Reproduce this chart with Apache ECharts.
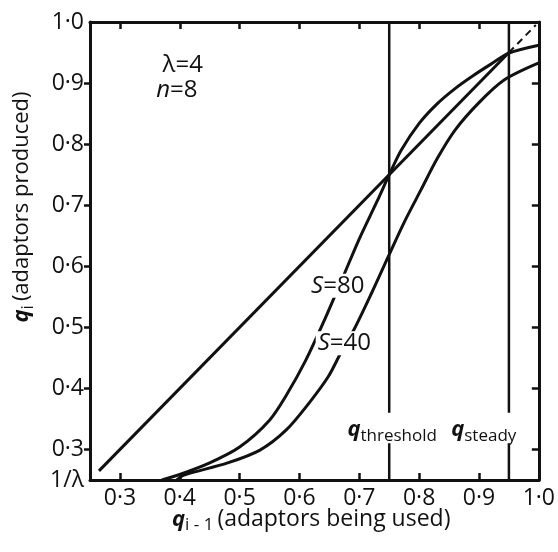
<!DOCTYPE html>
<html>
<head>
<meta charset="utf-8">
<script src="https://cdn.jsdelivr.net/npm/echarts@6/dist/echarts.min.js"></script>
<style>
    html, body { margin: 0; padding: 0; background: #fff; }
    #container { width: 558px; height: 552px; }
</style>
</head>
<body>
<div id="container"></div>
<script>
//刻度和标签
var xTicks = [0.3, 0.4, 0.5, 0.6, 0.7, 0.8, 0.9];
var xLabelValues = [0.3, 0.4, 0.5, 0.6, 0.7, 0.8, 0.9, 1.0];
var xLabelTexts = ['0·3', '0·4', '0·5', '0·6', '0·7', '0·8', '0·9', '1·0'];
var yTicks = [0.3, 0.4, 0.5, 0.6, 0.7, 0.8, 0.9];
var yLabelValues = [0.25, 0.3, 0.4, 0.5, 0.6, 0.7, 0.8, 0.9, 1.0];
var yLabelTexts = ['1/λ', '0·3', '0·4', '0·5', '0·6', '0·7', '0·8', '0·9', '1·0'];
//两条竖线
var qThreshold = 0.75;
var qSteady = 0.95;
//对角线 q_i = q_(i-1)
var diagSolid = [[0.265, 0.265], [0.95, 0.95]];
var diagDashed = [[0.95, 0.95], [0.995, 0.995]];
//S=80 曲线
var s80 = [[0.37, 0.25], [0.40, 0.259], [0.45, 0.278], [0.50, 0.304], [0.55, 0.348], [0.58, 0.392],
    [0.61, 0.445], [0.64, 0.508], [0.67, 0.576], [0.70, 0.645], [0.73, 0.707], [0.75, 0.75],
    [0.77, 0.79], [0.80, 0.834], [0.83, 0.866], [0.86, 0.891], [0.89, 0.912], [0.92, 0.931],
    [0.95, 0.949], [1.0, 0.962]];
//S=40 曲线
var s40 = [[0.395, 0.25], [0.407, 0.258], [0.48, 0.278], [0.534, 0.299], [0.578, 0.332], [0.616, 0.376],
    [0.648, 0.419], [0.669, 0.458], [0.691, 0.496], [0.72, 0.555], [0.748, 0.615], [0.775, 0.672],
    [0.803, 0.725], [0.83, 0.776], [0.86, 0.823], [0.90, 0.868], [0.942, 0.905], [1.0, 0.933]];
//竖线上留给文字的空隙
var gapLow = 0.31;
var gapHigh = 0.36;

var FONT = 'Open Sans';
var INK = '#111';

function vline(x) {
    return [[[x, 0.25], [x, gapLow]], [[x, gapHigh], [x, 1.0]]];
}
function fmt(values, texts) {
    return function (v) {
        for (var i = 0; i < values.length; i++) {
            if (Math.abs(values[i] - v) < 1e-6) return texts[i];
        }
        return '';
    };
}

var dom = document.getElementById('container');
var myChart = echarts.init(dom, null, { renderer: 'canvas' });

var lineStyle = { color: INK, width: 3 };
var series = [];
//对角线
series.push({ type: 'line', data: diagSolid, symbol: 'none', lineStyle: lineStyle, z: 3 });
series.push({ type: 'line', data: diagDashed, symbol: 'none', lineStyle: { color: INK, width: 2, type: [7, 5] }, z: 3 });
//两条 S 曲线
series.push({ type: 'line', data: s80, symbol: 'none', smooth: 0.3, lineStyle: lineStyle, z: 3 });
series.push({ type: 'line', data: s40, symbol: 'none', smooth: 0.3, lineStyle: lineStyle, z: 3 });
//竖线
[qThreshold, qSteady].forEach(function (x) {
    vline(x).forEach(function (seg) {
        series.push({ type: 'line', data: seg, symbol: 'none', lineStyle: { color: INK, width: 2.5 }, z: 3 });
    });
});
//文字标注
var subRich = {
    q: { fontFamily: FONT, fontSize: 22, fontStyle: 'italic', fontWeight: 'bold', color: INK },
    s: { fontFamily: FONT, fontSize: 17, color: INK, padding: [12, 0, 0, 0] },
    t: { fontFamily: FONT, fontSize: 24, color: INK },
    si: { fontFamily: FONT, fontSize: 24, fontStyle: 'italic', color: INK }
};
function textPoint(x, y, text, bg) {
    return {
        type: 'scatter', symbolSize: 0, z: 10, silent: true,
        itemStyle: { opacity: 1 },
        data: [[x, y]],
        label: {
            show: true, position: 'inside', formatter: text, rich: subRich,
            fontFamily: FONT, fontSize: 21, color: INK, textBorderWidth: 0,
            backgroundColor: bg || 'transparent', padding: bg ? [0, 2] : 0
        }
    };
}
series.push(textPoint(0.755, 0.332, '{q|q}{s|threshold}'));
series.push(textPoint(0.908, 0.332, '{q|q}{s|steady}'));
series.push(textPoint(0.664, 0.568, '{si|S}{t|=80}', '#fff'));
series.push(textPoint(0.675, 0.474, '{si|S}{t|=40}', '#fff'));
series.push(textPoint(0.405, 0.93, '{t|λ=4}'));
series.push(textPoint(0.395, 0.889, '{si|n}{t|=8}'));

var axisBase = {
    type: 'value', min: 0.25, max: 1.0,
    axisLine: { show: true, onZero: false, lineStyle: { color: INK, width: 3 } },
    splitLine: { show: false }
};

option = {
    backgroundColor: '#fff',
    animation: false,
    grid: { left: 90, right: 16, top: 22, bottom: 72 },
    xAxis: [
        Object.assign({}, axisBase, {
            position: 'bottom',
            axisTick: { show: true, inside: true, length: 7, lineStyle: { color: INK, width: 2.5 }, customValues: xTicks },
            axisLabel: { show: true, customValues: xLabelValues, formatter: fmt(xLabelValues, xLabelTexts), margin: 7,
                fontFamily: FONT, fontSize: 23, color: INK }
        }),
        Object.assign({}, axisBase, {
            position: 'top',
            axisTick: { show: true, inside: true, length: 7, lineStyle: { color: INK, width: 2.5 }, customValues: xTicks },
            axisLabel: { show: false }
        })
    ],
    yAxis: [
        Object.assign({}, axisBase, {
            position: 'left',
            axisTick: { show: true, inside: false, length: 6, lineStyle: { color: INK, width: 2.5 }, customValues: yTicks },
            axisLabel: { show: true, customValues: yLabelValues, formatter: fmt(yLabelValues, yLabelTexts), margin: 6,
                fontFamily: FONT, fontSize: 23, color: INK }
        }),
        Object.assign({}, axisBase, {
            position: 'right',
            axisTick: { show: true, inside: true, length: 7, lineStyle: { color: INK, width: 2.5 }, customValues: yTicks },
            axisLabel: { show: false }
        })
    ],
    graphic: [
        {
            //x轴标题
            type: 'text', left: 172, top: 508,
            style: {
                text: '{q|q}{s|i - 1}{tt|(adaptors being used)}',
                rich: Object.assign({}, subRich, { tt: { fontFamily: FONT, fontSize: 23, color: INK, padding: [0, 0, 0, 4] } }),
                fill: INK
            }
        },
        {
            //y轴标题
            type: 'text', x: 22, y: 207, rotation: Math.PI / 2,
            style: {
                text: '{q|q}{s|i}{tt|(adaptors produced)}',
                rich: Object.assign({}, subRich, { tt: { fontFamily: FONT, fontSize: 22, color: INK, padding: [0, 0, 0, 4] } }),
                fill: INK, align: 'center', verticalAlign: 'middle'
            }
        }
    ],
    series: series
};
if (option && typeof option === 'object') {
    myChart.setOption(option, true);
}
</script>
</body>
</html>
